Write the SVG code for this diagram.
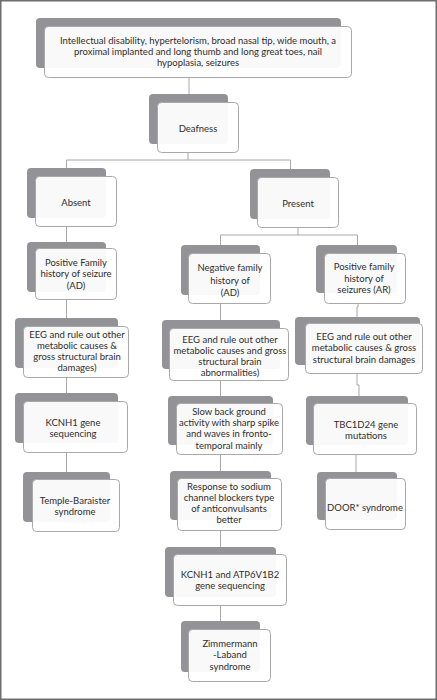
<svg xmlns="http://www.w3.org/2000/svg" width="437" height="700" viewBox="0 0 437 700">
<style>
.sh{fill:#939397}
.fr{fill:#fff;fill-opacity:0.94;stroke:#a8a8a8;stroke-width:1}
.t{font-family:Lato,"Open Sans",sans-serif;font-size:9.5px;fill:#2e2e2e;text-anchor:middle}
.c{stroke:#a8a8a8;stroke-width:1;fill:none}
</style>
<rect x="0.75" y="0.75" width="435.5" height="698.5" fill="#fff" stroke="#6e6e6e" stroke-width="1.5"/>
<g id="connectors">
<path class="c" d="M189 78V94"/>
<path class="c" d="M188 153V160M66.5 160H290.5M66.5 160V168M290.5 160V169"/>
<path class="c" d="M66.5 227V242M66.5 300V318M66.5 378V393M66.5 453V472"/>
<path class="c" d="M298 228V235M220.5 235H357.5M220.5 235V245M357.5 235V245"/>
<path class="c" d="M220.5 304V320M220.5 381V396M220.5 455V471M220.5 531V547M220.5 606V621"/>
<path class="c" d="M358 304V307H357V317M357 374V385H359V396M356 455V472"/>
</g>
<g id="n1"><rect class="sh" x="36" y="18" width="305" height="50" rx="4"/><rect class="fr" x="44.5" y="26.5" width="307" height="51" rx="4"/>
<text class="t"><tspan x="198" y="43.8">Intellectual disability, hypertelorism, broad nasal tip, wide mouth, a</tspan><tspan x="198" y="55">proximal implanted and long thumb and long great toes, nail</tspan><tspan x="198" y="66.2">hypoplasia, seizures</tspan></text></g>
<g id="n2"><rect class="sh" x="149" y="94" width="79" height="50" rx="4"/><rect class="fr" x="157.5" y="102.5" width="81" height="50" rx="4"/>
<text class="t" x="198" y="131.5">Deafness</text></g>
<g id="n3"><rect class="sh" x="27" y="168" width="79" height="50" rx="4"/><rect class="fr" x="35.5" y="176.5" width="81" height="50" rx="4"/>
<text class="t" x="76" y="205.5">Absent</text></g>
<g id="n4"><rect class="sh" x="250" y="169" width="80" height="50" rx="4"/><rect class="fr" x="257.5" y="177.5" width="81" height="50" rx="4"/>
<text class="t" x="298" y="206.5">Present</text></g>
<g id="n5"><rect class="sh" x="27" y="242" width="79" height="50" rx="4"/><rect class="fr" x="35.5" y="248.5" width="81" height="51" rx="4"/>
<text class="t"><tspan x="76" y="266.1">Positive Family</tspan><tspan x="76" y="277.3">history of seizure</tspan><tspan x="76" y="288.5">(AD)</tspan></text></g>
<g id="n6"><rect class="sh" x="181" y="245" width="79" height="50" rx="4"/><rect class="fr" x="188.5" y="253.5" width="82" height="50" rx="4"/>
<text class="t"><tspan x="230" y="270.5">Negative family</tspan><tspan x="230" y="283.5">history of</tspan><tspan x="230" y="295.5">(AD)</tspan></text></g>
<g id="n7"><rect class="sh" x="316" y="245" width="81" height="48" rx="4"/><rect class="fr" x="324.5" y="253.5" width="81" height="50" rx="4"/>
<text class="t"><tspan x="364" y="270.4">Positive family</tspan><tspan x="364" y="281.6">history of</tspan><tspan x="364" y="292.8">seizures (AR)</tspan></text></g>
<g id="n8"><rect class="sh" x="15" y="318" width="103" height="50" rx="4"/><rect class="fr" x="23.5" y="326.5" width="105" height="51" rx="4"/>
<text class="t"><tspan x="77" y="337.5">EEG and rule out other</tspan><tspan x="77" y="348.7">metabolic causes &amp;</tspan><tspan x="77" y="359.9">gross structural brain</tspan><tspan x="77" y="371.1">damages)</tspan></text></g>
<g id="n9"><rect class="sh" x="162" y="320" width="118" height="49" rx="4"/><rect class="fr" x="169.5" y="328.5" width="119" height="52" rx="4"/>
<text class="t"><tspan x="230" y="342.5">EEG and rule out other</tspan><tspan x="230" y="353.7">metabolic causes and gross</tspan><tspan x="230" y="364.9">structural brain</tspan><tspan x="230" y="376.1">abnormalities)</tspan></text></g>
<g id="n10"><rect class="sh" x="295" y="317" width="125" height="48" rx="4"/><rect class="fr" x="305.5" y="323.5" width="117" height="50" rx="4"/>
<text class="t"><tspan x="364" y="340.1">EEG and rule out other</tspan><tspan x="364" y="351.3">metabolic causes &amp; gross</tspan><tspan x="364" y="362.5">structural brain damages</tspan></text></g>
<g id="n11"><rect class="sh" x="15" y="393" width="103" height="50" rx="4"/><rect class="fr" x="23.5" y="401.5" width="104" height="51" rx="4"/>
<text class="t"><tspan x="73" y="425.5">KCNH1 gene</tspan><tspan x="73" y="436.5">sequencing</tspan></text></g>
<g id="n12"><rect class="sh" x="168" y="396" width="105" height="49" rx="4"/><rect class="fr" x="176.5" y="403.5" width="106" height="51" rx="4"/>
<text class="t"><tspan x="229" y="415">Slow back ground</tspan><tspan x="229" y="426.2">activity with sharp spike</tspan><tspan x="229" y="437.4">and waves in fronto-</tspan><tspan x="229" y="448.6">temporal mainly</tspan></text></g>
<g id="n13"><rect class="sh" x="306" y="396" width="102" height="49" rx="4"/><rect class="fr" x="313.5" y="403.5" width="103" height="51" rx="4"/>
<text class="t"><tspan x="366" y="427.5">TBC1D24 gene</tspan><tspan x="366" y="438.5">mutations</tspan></text></g>
<g id="n14"><rect class="sh" x="23" y="472" width="87" height="50" rx="4"/><rect class="fr" x="32.5" y="479.5" width="87" height="52" rx="4"/>
<text class="t"><tspan x="75" y="503.5">Temple-Baraister</tspan><tspan x="75" y="514.5">syndrome</tspan></text></g>
<g id="n15"><rect class="sh" x="170" y="471" width="101" height="49" rx="4"/><rect class="fr" x="177.5" y="478.5" width="104" height="52" rx="4"/>
<text class="t"><tspan x="229" y="489.5">Response to sodium</tspan><tspan x="229" y="500.7">channel blockers type</tspan><tspan x="229" y="511.9">of anticonvulsants</tspan><tspan x="229" y="523.1">better</tspan></text></g>
<g id="n16"><rect class="sh" x="317" y="472" width="80" height="48" rx="4"/><rect class="fr" x="325.5" y="478.5" width="80" height="51" rx="4"/>
<text class="t" x="365" y="510.5">DOOR* syndrome</text></g>
<g id="n17"><rect class="sh" x="165" y="547" width="111" height="50" rx="4"/><rect class="fr" x="173.5" y="554.5" width="113" height="51" rx="4"/>
<text class="t"><tspan x="230" y="577.5">KCNH1 and ATP6V1B2</tspan><tspan x="230" y="588.5">gene sequencing</tspan></text></g>
<g id="n18"><rect class="sh" x="181" y="621" width="79" height="51" rx="4"/><rect class="fr" x="188.5" y="629.5" width="82" height="52" rx="4"/>
<text class="t"><tspan x="230" y="647.1">Zimmermann</tspan><tspan x="230" y="658.3">-Laband</tspan><tspan x="230" y="669.5">syndrome</tspan></text></g>
</svg>
